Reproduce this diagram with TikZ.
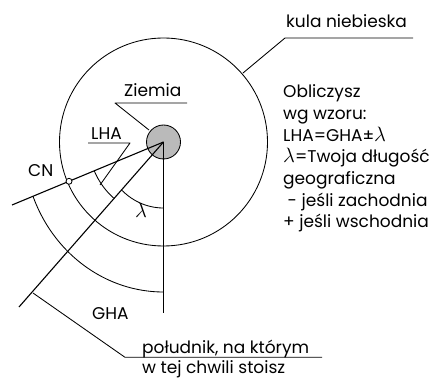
\documentclass[tikz,border=0pt]{standalone}
\usepackage{fontspec}
\setmainfont{Poppins}
\newcommand{\biglam}{{\fontsize{20}{20}\selectfont$\lambda$}}
\begin{document}
\begin{tikzpicture}[x=1pt,y=-1pt,line join=round,
  lbl/.style={inner sep=0pt,font=\fontsize{17}{20}\selectfont},
  heavy/.style={line width=1.1pt},
  light/.style={line width=0.85pt}]
\useasboundingbox (0,0) rectangle (436,379);
\coordinate (O) at (163.5,142);
\coordinate (cnend) at (12,205);
\coordinate (merend) at (19,307);
\coordinate (grend) at (163.5,313);
\coordinate (cnpt) at (69,181.3);
% celestial sphere
\draw[light] (O) circle[radius=104];
% arcs
\draw[light] plot[domain=90:158.8,samples=60,variable=\t] ({163.5+140*cos(\t)},{142+150*sin(\t)});
\draw[light] plot[domain=131.2:157.4,samples=30,variable=\t] ({163.5+75*cos(\t)},{142+75*sin(\t)});
\draw[light] plot[domain=90:133.5,samples=40,variable=\t] ({163.5+61*cos(\t)},{142+66*sin(\t)});
% earth
\node[circle,draw,light,fill=black!27,minimum size=34pt,inner sep=0pt] (earth) at (O) {};
% lines from earth centre
\draw[heavy] (earth.center) -- (cnend);
\draw[heavy] (earth.center) -- (merend);
\draw[heavy] (earth.center) -- (grend);
\node[circle,draw,light,fill=white,minimum size=6pt,inner sep=0pt] (cndot) at (cnpt) {};
% labels
\node[lbl,anchor=base west] (kula) at (286,27.5) {kula niebieska};
\coordinate (kulaA) at (285,38);
\coordinate (kulaB) at (413,38);
\coordinate (kulaC) at (243,73);
\draw[light] (kulaB) -- (kulaA) -- (kulaC);

\node[lbl,anchor=base west] (ziemia) at (124,96.7) {Ziemia};
\coordinate (zA) at (187,103);
\coordinate (zB) at (115,103);
\coordinate (zC) at (149,130);
\draw[light] (zA) -- (zB) -- (zC);

\node[lbl,anchor=base west] (lha) at (91,139.3) {LHA};
\coordinate (lA) at (88,143);
\coordinate (lB) at (130,143);
\coordinate (lC) at (100,185);
\draw[light] (lA) -- (lB) -- (lC);

\node[lbl,anchor=base west] (cn) at (28,176.7) {CN};
\node[lbl,anchor=center] (lam) at (141,210) {\biglam};
\node[lbl,anchor=base west] (gha) at (92,319) {GHA};

\node[lbl,anchor=base west] (pol1) at (142,353.3) {południk, na którym};
\node[lbl,anchor=base west] (pol2) at (142,373.5) {w tej chwili stoisz};
\coordinate (pA) at (33,293);
\coordinate (pB) at (125,357.3);
\coordinate (pC) at (322,357.3);
\draw[light] (pA) -- (pB) -- (pC);

\node[lbl,anchor=base west] (t1) at (283,98) {Obliczysz};
\node[lbl,anchor=base west] (t2) at (283,119.7) {wg wzoru:};
\node[lbl,anchor=base west] (t3) at (283,141.3) {LHA=GHA±\biglam};
\node[lbl,anchor=base west] (t4) at (283,163) {\biglam=Twoja długość};
\node[lbl,anchor=base west] (t5) at (283,184.6) {geograficzna};
\node[lbl,anchor=base west] (t6) at (283,206.2) {\ - jeśli zachodnia};
\node[lbl,anchor=base west] (t7) at (283,227.8) {+ jeśli wschodnia};
\end{tikzpicture}
\end{document}
